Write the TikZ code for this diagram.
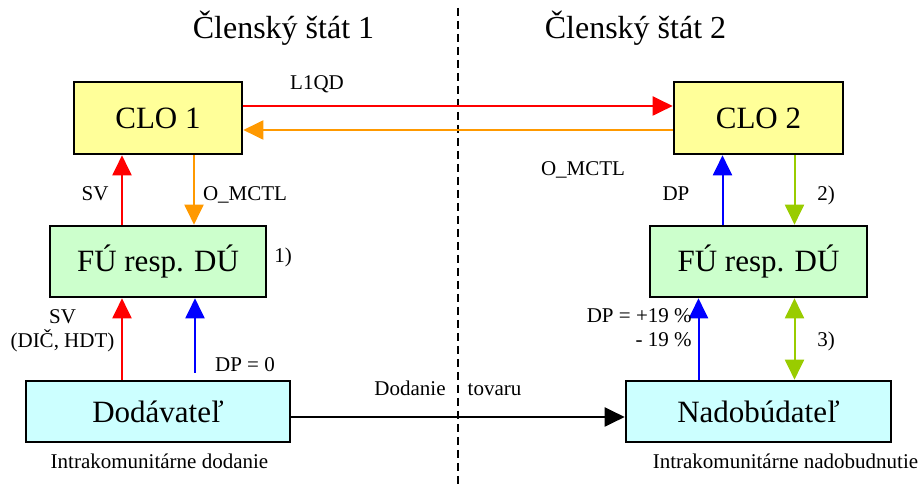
\documentclass[tikz,border=0pt]{standalone}
\usepackage{fontspec}
\setmainfont{Liberation Serif}
\usetikzlibrary{arrows.meta}
\definecolor{clofill}{HTML}{FFFF99}
\definecolor{fufill}{HTML}{CCFFCC}
\definecolor{subjfill}{HTML}{CCFFFF}
\definecolor{mctlorange}{HTML}{FF9900}
\definecolor{dpgreen}{HTML}{99CC00}

\begin{document}
\begin{tikzpicture}[x=0.5pt,y=-0.5pt,
    box/.style={draw,line width=1.3pt,inner sep=0pt,font=\fontsize{15.5}{18}\selectfont},
    lbl/.style={inner sep=0pt,anchor=base,font=\fontsize{10.5}{12}\selectfont},
    tip/.style={Triangle[length=10pt,width=9.5pt]},
    flow/.style={line width=1pt,-{Triangle[length=10pt,width=9.5pt]}},
    both/.style={line width=1pt,{Triangle[length=10pt,width=9.5pt]}-{Triangle[length=10pt,width=9.5pt]}}]
    \useasboundingbox (0,0) rectangle (923,486);
    \draw[line width=0.8pt,dash pattern=on 4pt off 2.5pt] (458,8) -- (458,486);
    \node[inner sep=0pt,anchor=base,font=\fontsize{16}{19}\selectfont] (st1) at (283.5,38.5) {Členský štát 1};
    \node[inner sep=0pt,anchor=base,font=\fontsize{16}{19}\selectfont] (st2) at (635.5,38.5) {Členský štát 2};

    \node[box,fill=clofill,minimum width=84pt,minimum height=36pt] (clo1) at (158,118) {CLO 1};
    \node[box,fill=clofill,minimum width=84.5pt,minimum height=36pt] (clo2) at (758.5,118) {CLO 2};
    \node[box,fill=fufill,minimum width=108pt,minimum height=35.5pt] (fu1) at (158,261.5) {FÚ resp. DÚ};
    \node[box,fill=fufill,minimum width=108.5pt,minimum height=35.5pt] (fu2) at (758.5,261.5) {FÚ resp. DÚ};
    \node[box,fill=subjfill,minimum width=132pt,minimum height=30.5pt] (dod) at (158,411.5) {Dodávateľ};
    \node[box,fill=subjfill,minimum width=132.5pt,minimum height=30.5pt] (nad) at (758.5,411.5) {Nadobúdateľ};

    \draw[flow,red] ([yshift=6pt]clo1.east) -- ([yshift=6pt]clo2.west);
    \draw[flow,mctlorange] ([yshift=-6pt]clo2.west) -- ([yshift=-6pt]clo1.east);
    \draw[flow,red] ([xshift=-18pt]fu1.north) -- ([xshift=-18pt]clo1.south);
    \draw[flow,mctlorange] ([xshift=18pt]clo1.south) -- ([xshift=18pt]fu1.north);
    \draw[flow,red] ([xshift=-18pt]dod.north) -- ([xshift=-18pt]fu1.south);
    \draw[flow,blue] ([xshift=18.5pt,yshift=3.5pt]dod.north) -- ([xshift=18.5pt]fu1.south);
    \draw[flow,blue] ([xshift=-18pt]fu2.north) -- ([xshift=-18pt]clo2.south);
    \draw[flow,dpgreen] ([xshift=18pt]clo2.south) -- ([xshift=18pt]fu2.north);
    \draw[flow,blue] ([xshift=-30pt]nad.north) -- ([xshift=-30pt]fu2.south);
    \draw[both,dpgreen] ([xshift=18pt]nad.north) -- ([xshift=18pt]fu2.south);
    \draw[flow] ([yshift=-2.75pt]dod.east) -- ([yshift=-2.75pt]nad.west);

    \node[lbl] (l1qd) at (317,90) {L1QD};
    \node[lbl] (omctl2) at (583,176) {O\_MCTL};
    \node[lbl] (sv1) at (95,201) {SV};
    \node[lbl] (omctl1) at (245,201) {O\_MCTL};
    \node[lbl] (n1) at (283,263) {1)};
    \node[lbl] (dp1) at (676,201) {DP};
    \node[lbl] (n2) at (826,201) {2)};
    \node[lbl,align=center] (sv2) at (62.5,348) {SV\\(DIČ, HDT)};
    \node[lbl] (dp0) at (245,372) {DP = 0};
    \node[lbl,anchor=base east,align=right] (dp19) at (692,347) {DP = +19 \%\\- 19 \%};
    \node[lbl] (n3) at (826,347) {3)};
    \node[lbl] (dodanie) at (410,396) {Dodanie};
    \node[lbl] (tovaru) at (494.5,396) {tovaru};
    \node[lbl] (intra1) at (159.5,469) {Intrakomunitárne dodanie};
    \node[lbl] (intra2) at (785.5,469) {Intrakomunitárne nadobudnutie};
\end{tikzpicture}
\end{document}
